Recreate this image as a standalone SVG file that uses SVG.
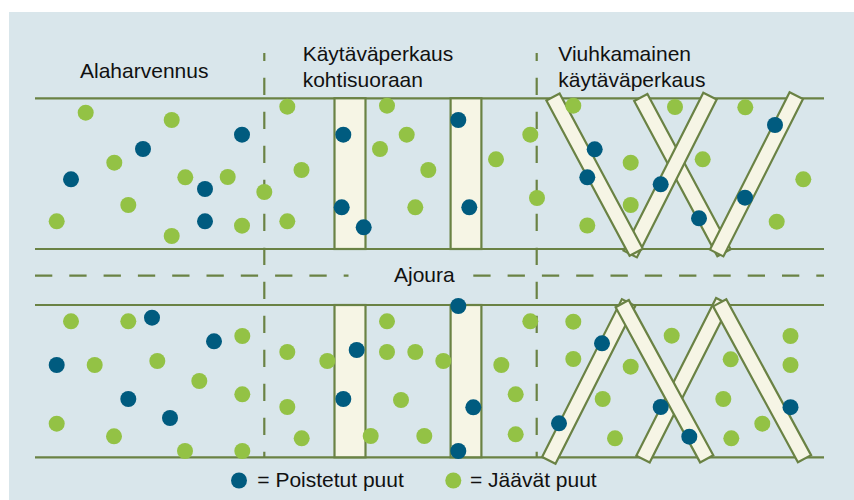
<svg xmlns="http://www.w3.org/2000/svg" width="854" height="500" viewBox="0 0 854 500">
<style>
.ln{stroke:#6a8244;stroke-width:2.2;fill:none}
.dh{stroke:#6a8244;stroke-width:2.2;fill:none;stroke-dasharray:17.3 17}
.dv{stroke:#6a8244;stroke-width:2.2;fill:none;stroke-dasharray:17.3 16.7;stroke-dashoffset:9.3}
.st{fill:#f6f5e5;stroke:#6a8244;stroke-width:2.2;stroke-linejoin:miter}
.b{fill:#005b7f}
.g{fill:#93c245}
text{font-family:"Liberation Sans",Arial,sans-serif;font-size:21px;fill:#111}
</style>
<rect x="9" y="12" width="845" height="488" fill="#d9e6eb"/>
<g id="connectors">
<line class="ln" x1="35" y1="98.3" x2="824" y2="98.3"/>
<line class="ln" x1="35" y1="249" x2="824" y2="249"/>
<line class="ln" x1="35" y1="305" x2="824" y2="305"/>
<line class="ln" x1="35" y1="457.3" x2="824" y2="457.3"/>
<line class="dh" x1="35" y1="275.7" x2="348.5" y2="275.7"/>
<line class="dh" x1="473.3" y1="275.7" x2="824" y2="275.7"/>
<line class="dv" x1="264.3" y1="53" x2="264.3" y2="457"/>
<line class="dv" x1="536.7" y1="53" x2="536.7" y2="457"/>
</g>
<g id="strips-perpendicular">
<rect class="st" x="334.5" y="98.3" width="31" height="150.7"/>
<rect class="st" x="450.6" y="98.3" width="30.8" height="150.7"/>
<rect class="st" x="334.5" y="305" width="31" height="152.3"/>
<rect class="st" x="450.6" y="305" width="30.8" height="152.3"/>
</g>
<g id="strips-fan-top">
<polygon class="st" points="634.19,101.04 647.41,93.96 730.61,249.26 717.39,256.34"/>
<polygon class="st" points="623.51,250.61 636.89,257.39 716.69,99.59 703.31,92.81"/>
<polygon class="st" points="546.39,100.54 559.61,93.46 642.81,248.76 629.59,255.84"/>
<polygon class="st" points="710.01,249.61 723.39,256.39 802.99,99.09 789.61,92.31"/>
</g>
<g id="strips-fan-bottom">
<polygon class="st" points="542.11,456.91 555.49,463.69 635.29,305.89 621.91,299.11"/>
<polygon class="st" points="636.31,455.81 649.69,462.59 729.49,304.79 716.11,298.01"/>
<polygon class="st" points="615.61,307.29 628.79,300.11 713.29,455.21 700.11,462.39"/>
<polygon class="st" points="713.11,306.39 726.29,299.21 811.09,455.11 797.91,462.29"/>
</g>
<g id="labels">
<text x="80" y="78">Alaharvennus</text>
<text x="302.7" y="61">Käytäväperkaus</text>
<text x="302.7" y="86.5">kohtisuoraan</text>
<text x="558.3" y="61">Viuhkamainen</text>
<text x="558.3" y="86.5">käytäväperkaus</text>
<text x="394" y="281.7">Ajoura</text>
</g>
<g id="trees-top-left">
<circle class="g" cx="85.7" cy="112.7" r="8"/><circle class="g" cx="171.7" cy="120" r="8"/><circle class="g" cx="114.3" cy="162.7" r="8"/><circle class="g" cx="185.3" cy="177.3" r="8"/><circle class="g" cx="227.7" cy="177" r="8"/><circle class="g" cx="264.3" cy="192" r="8"/><circle class="g" cx="128.3" cy="205" r="8"/><circle class="g" cx="56.7" cy="221.3" r="8"/><circle class="g" cx="242" cy="225.7" r="8"/><circle class="g" cx="171.7" cy="236" r="8"/><circle class="g" cx="287.3" cy="106.7" r="8"/><circle class="g" cx="301.5" cy="170" r="8"/><circle class="g" cx="287.3" cy="221.3" r="8"/>
<circle class="b" cx="242" cy="134.7" r="8"/><circle class="b" cx="143" cy="149" r="8"/><circle class="b" cx="71" cy="179.3" r="8"/><circle class="b" cx="205" cy="189" r="8"/><circle class="b" cx="205" cy="221.3" r="8"/>
</g>
<g id="trees-top-middle">
<circle class="g" cx="387" cy="105.7" r="8"/><circle class="g" cx="406.7" cy="134.7" r="8"/><circle class="g" cx="380" cy="149" r="8"/><circle class="g" cx="428.3" cy="170" r="8"/><circle class="g" cx="415.3" cy="207.3" r="8"/><circle class="g" cx="496" cy="159.3" r="8"/><circle class="g" cx="530.3" cy="134.7" r="8"/><circle class="g" cx="537" cy="198" r="8"/>
<circle class="b" cx="343.3" cy="134.7" r="8"/><circle class="b" cx="341.7" cy="207.3" r="8"/><circle class="b" cx="363.7" cy="227.3" r="8"/><circle class="b" cx="458.3" cy="120" r="8"/><circle class="b" cx="469.3" cy="207.3" r="8"/>
</g>
<g id="trees-top-right">
<circle class="g" cx="573.3" cy="105.7" r="8"/><circle class="g" cx="630.7" cy="162.7" r="8"/><circle class="g" cx="630.7" cy="205" r="8"/><circle class="g" cx="587.3" cy="225.5" r="8"/><circle class="g" cx="675" cy="107" r="8"/><circle class="g" cx="745.3" cy="107.3" r="8"/><circle class="g" cx="702.7" cy="159.3" r="8"/><circle class="g" cx="803.3" cy="179.3" r="8"/><circle class="g" cx="776.7" cy="221.7" r="8"/>
<circle class="b" cx="594.7" cy="149.3" r="8"/><circle class="b" cx="587.3" cy="177.3" r="8"/><circle class="b" cx="660.7" cy="184.3" r="8"/><circle class="b" cx="775" cy="125" r="8"/><circle class="b" cx="745" cy="197.7" r="8"/><circle class="b" cx="699" cy="218.3" r="8"/>
</g>
<g id="trees-bottom-left">
<circle class="g" cx="71" cy="321.3" r="8"/><circle class="g" cx="128.3" cy="321.3" r="8"/><circle class="g" cx="242.3" cy="336" r="8"/><circle class="g" cx="287.3" cy="352" r="8"/><circle class="g" cx="94.7" cy="365" r="8"/><circle class="g" cx="157.3" cy="361" r="8"/><circle class="g" cx="199.3" cy="381" r="8"/><circle class="g" cx="242.3" cy="394.3" r="8"/><circle class="g" cx="287.3" cy="407" r="8"/><circle class="g" cx="56.7" cy="423.7" r="8"/><circle class="g" cx="114" cy="436.3" r="8"/><circle class="g" cx="185" cy="451" r="8"/><circle class="g" cx="242.3" cy="451" r="8"/><circle class="g" cx="301.7" cy="438.3" r="8"/>
<circle class="b" cx="152" cy="317.7" r="8"/><circle class="b" cx="214" cy="341.3" r="8"/><circle class="b" cx="56.7" cy="365" r="8"/><circle class="b" cx="128.3" cy="399" r="8"/><circle class="b" cx="170" cy="418" r="8"/>
</g>
<g id="trees-bottom-middle">
<circle class="g" cx="327.3" cy="361" r="8"/><circle class="g" cx="387" cy="321.3" r="8"/><circle class="g" cx="387" cy="352" r="8"/><circle class="g" cx="415.3" cy="352" r="8"/><circle class="g" cx="443.3" cy="361" r="8"/><circle class="g" cx="401" cy="400" r="8"/><circle class="g" cx="370.7" cy="436" r="8"/><circle class="g" cx="424.3" cy="436" r="8"/><circle class="g" cx="530.3" cy="321.3" r="8"/><circle class="g" cx="501.3" cy="365" r="8"/><circle class="g" cx="515.7" cy="394.3" r="8"/><circle class="g" cx="515.7" cy="434.3" r="8"/>
<circle class="b" cx="356.7" cy="350" r="8"/><circle class="b" cx="343.3" cy="399" r="8"/><circle class="b" cx="458.3" cy="306" r="8"/><circle class="b" cx="473.3" cy="407.3" r="8"/><circle class="b" cx="458.3" cy="451" r="8"/>
</g>
<g id="trees-bottom-right">
<circle class="g" cx="573.3" cy="321.7" r="8"/><circle class="g" cx="573.3" cy="359" r="8"/><circle class="g" cx="630.7" cy="366.7" r="8"/><circle class="g" cx="602.7" cy="399" r="8"/><circle class="g" cx="615" cy="438.3" r="8"/><circle class="g" cx="671.7" cy="335.7" r="8"/><circle class="g" cx="730.7" cy="359.3" r="8"/><circle class="g" cx="723.3" cy="399" r="8"/><circle class="g" cx="762.3" cy="423.7" r="8"/><circle class="g" cx="731.3" cy="438.3" r="8"/><circle class="g" cx="790.5" cy="336" r="8"/><circle class="g" cx="790.5" cy="365" r="8"/>
<circle class="b" cx="602" cy="343.3" r="8"/><circle class="b" cx="559" cy="423.3" r="8"/><circle class="b" cx="660.7" cy="407" r="8"/><circle class="b" cx="689.3" cy="436.7" r="8"/><circle class="b" cx="790.5" cy="407.2" r="8"/>
</g>
<g id="legend">
<circle class="b" cx="239" cy="480.5" r="8"/>
<text x="257.3" y="487.3">= Poistetut puut</text>
<circle class="g" cx="453.3" cy="480.5" r="8"/>
<text x="470" y="487.3">= Jäävät puut</text>
</g>
</svg>
